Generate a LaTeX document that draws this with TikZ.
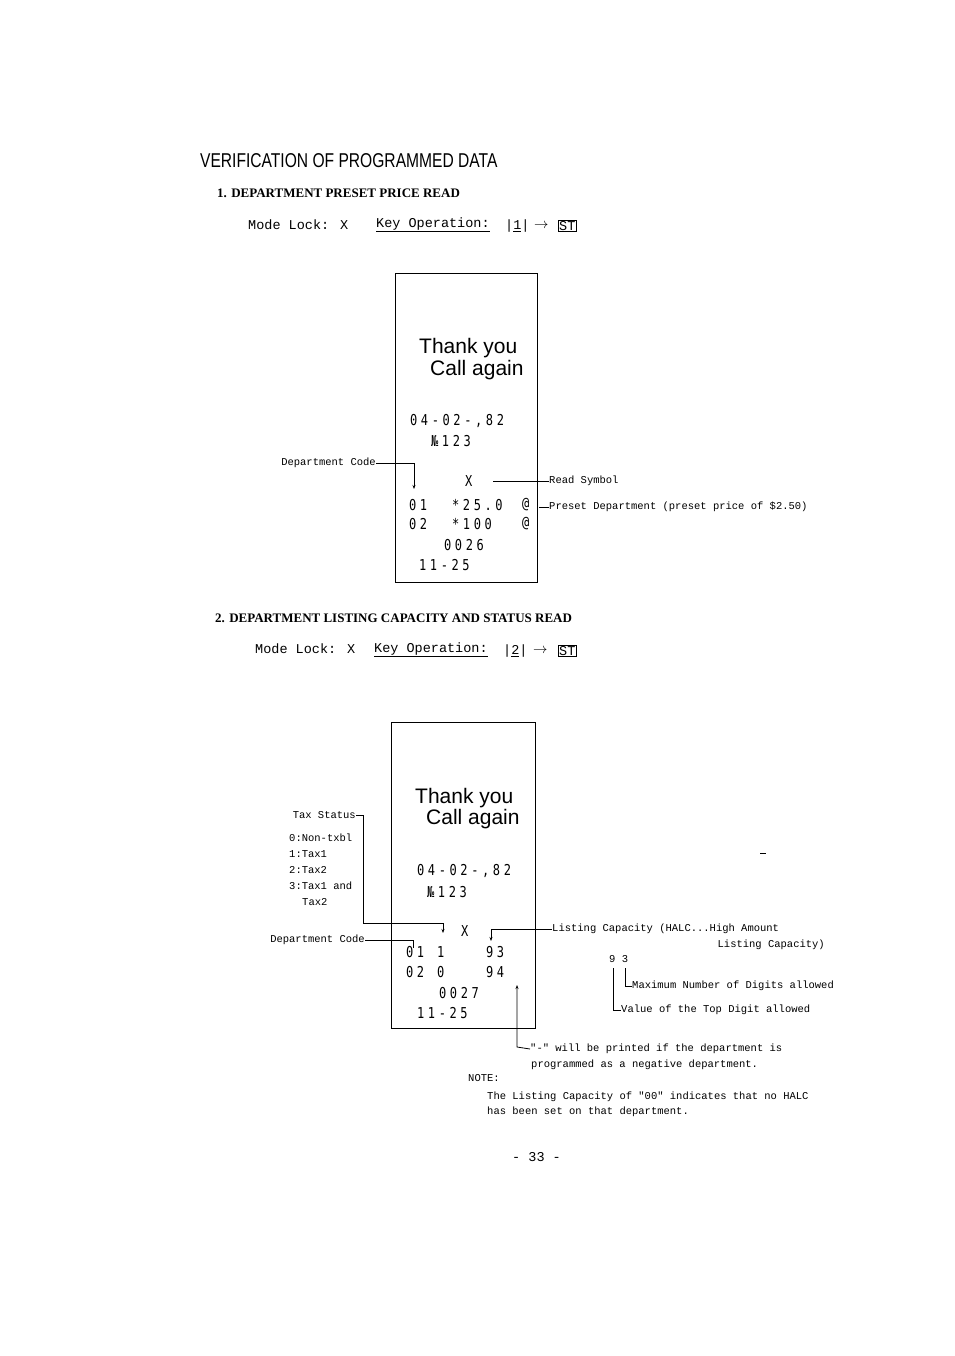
\documentclass[tikz,border=0pt]{standalone}
\usepackage{fontspec}
\setmainfont{Liberation Serif}
\newfontfamily\mono{Liberation Mono}
\newfontfamily\djmono[LetterSpace=30]{DejaVu Sans Mono}
\newfontfamily\rsans{Liberation Sans}
\usetikzlibrary{arrows.meta}
\begin{document}
\begin{tikzpicture}[x=1pt,y=-1pt,
  sm/.style={font=\mono\fontsize{10.5}{12}\selectfont,inner sep=0,anchor=west},
  md/.style={font=\mono\fontsize{13.5}{15}\selectfont,inner sep=0,anchor=west},
  hd/.style={font=\bfseries\fontsize{13}{15}\selectfont,inner sep=0,anchor=west},
  rc/.style={font=\djmono\fontsize{15}{17}\selectfont,inner sep=0,anchor=west,xscale=0.8},
  ty/.style={font=\rsans\fontsize{21}{23}\selectfont,inner sep=0,anchor=west},
  ln/.style={line width=0.8pt},
  ar/.style={line width=0.8pt,-{Stealth[length=4pt,width=3pt]}}]
\useasboundingbox[fill=white] (0,0) rectangle (954,1356);
\node[font=\rsans\fontsize{20}{22}\selectfont,inner sep=0,anchor=west,xscale=0.78] (title) at (200,161) {VERIFICATION OF PROGRAMMED DATA};
% section 1
\node[hd] (h1) at (217,193) {1. DEPARTMENT PRESET PRICE READ};
\node[md] (m1) at (248,225) {Mode Lock: X};
\node[md] (k1) at (376,225) {\underline{Key Operation:}};
\node[md] (n1) at (505,226) {|\underline{1}|};
\node[md] (a1) at (534,226) {$\rightarrow$};
\node[md,draw,inner sep=1pt] (s1) at (558,226) {ST};
\draw[ln] (395,273) rectangle (537,582);
\node[ty] (t1) at (419,348) {Thank you};
\node[ty] (c1) at (430,370) {Call again};
\node[rc] (d1) at (410,421) {04-02-,82};
\node[rc] (no1) at (431,441) {№123};
\node[rc] (x1) at (465,481) {X};
\node[rc] (r11) at (409,505) {01};
\node[rc] (r12) at (452,505) {*25.0};
\node[rc] (r13) at (522,505) {@};
\node[rc] (r21) at (409,524) {02};
\node[rc] (r22) at (452,524) {*100};
\node[rc] (r23) at (522,524) {@};
\node[rc] (tot1) at (444,545) {0026};
\node[rc] (tm1) at (419,565) {11-25};
\node[sm,anchor=east] (dc1) at (376,463) {Department Code};
\draw[ar] (dc1.east) -- (414,463) -- (414,489);
\node[sm] (rs) at (549,481) {Read Symbol};
\draw[ln] (rs.west) -- (493,481);
\node[sm] (pd) at (549,507) {Preset Department (preset price of \$2.50)};
\draw[ln] (pd.west) -- (539,507);
% section 2
\node[hd] (h2) at (215,618) {2. DEPARTMENT LISTING CAPACITY AND STATUS READ};
\node[md] (m2) at (255,649) {Mode Lock: X};
\node[md] (k2) at (374,650) {\underline{Key Operation:}};
\node[md] (n2) at (503,651) {|\underline{2}|};
\node[md] (a2) at (533,651) {$\rightarrow$};
\node[md,draw,inner sep=1pt] (s2) at (558,651) {ST};
\draw[ln] (391,722) rectangle (535,1028);
\node[ty] (t2) at (415,798) {Thank you};
\node[ty] (c2) at (426,819) {Call again};
\node[rc] (d2) at (417,871) {04-02-,82};
\node[rc] (no2) at (427,892) {№123};
\node[rc] (x2) at (461,931) {X};
\node[rc] (q11) at (406,952) {01};
\node[rc] (q12) at (437,952) {1};
\node[rc] (q13) at (486,952) {93};
\node[rc] (q21) at (406,972) {02};
\node[rc] (q22) at (437,972) {0};
\node[rc] (q23) at (486,972) {94};
\node[rc] (tot2) at (439,993) {0027};
\node[rc] (tm2) at (417,1013) {11-25};
\node[sm,anchor=east] (ts) at (356,815) {Tax Status};
\draw[ar] (ts.east) -- (363,815) -- (363,923) -- (443,923) -- (443,933);
\node[sm] (tx0) at (289,838) {0:Non-txbl};
\node[sm] (tx1) at (289,854) {1:Tax1};
\node[sm] (tx2) at (289,870) {2:Tax2};
\node[sm] (tx3) at (289,886) {3:Tax1 and};
\node[sm] (tx4) at (302,902) {Tax2};
\node[sm,anchor=east] (dc2) at (365,940) {Department Code};
\draw[ln] (dc2.east) -- (413,940) -- (413,948);
\node[sm] (lc) at (552,929) {Listing Capacity (HALC...High Amount};
\node[sm,anchor=east] (lc2) at (825,945) {Listing Capacity)};
\draw[ar] (lc.west) -- (491,929) -- (491,941);
\node[sm] (nn) at (609,959) {9 3};
\node[sm] (mx) at (632,986) {Maximum Number of Digits allowed};
\node[sm] (vt) at (621,1010) {Value of the Top Digit allowed};
\draw[ln] (625,968) |- (mx.west);
\draw[ln] (613,968) |- (vt.west);
\node[sm] (neg) at (530,1049) {"-" will be printed if the department is};
\node[sm] (neg2) at (531,1065) {programmed as a negative department.};
\draw[ar] (neg.west) -- (517,1047) -- (517,985);
\node[sm] (note) at (468,1078) {NOTE:};
\node[sm] (nt1) at (487,1097) {The Listing Capacity of "00" indicates that no HALC};
\node[sm] (nt2) at (487,1112) {has been set on that department.};
\node[md] (pg) at (512,1157) {- 33 -};
\draw[ln] (760,853) -- (766,853);
\end{tikzpicture}
\end{document}
